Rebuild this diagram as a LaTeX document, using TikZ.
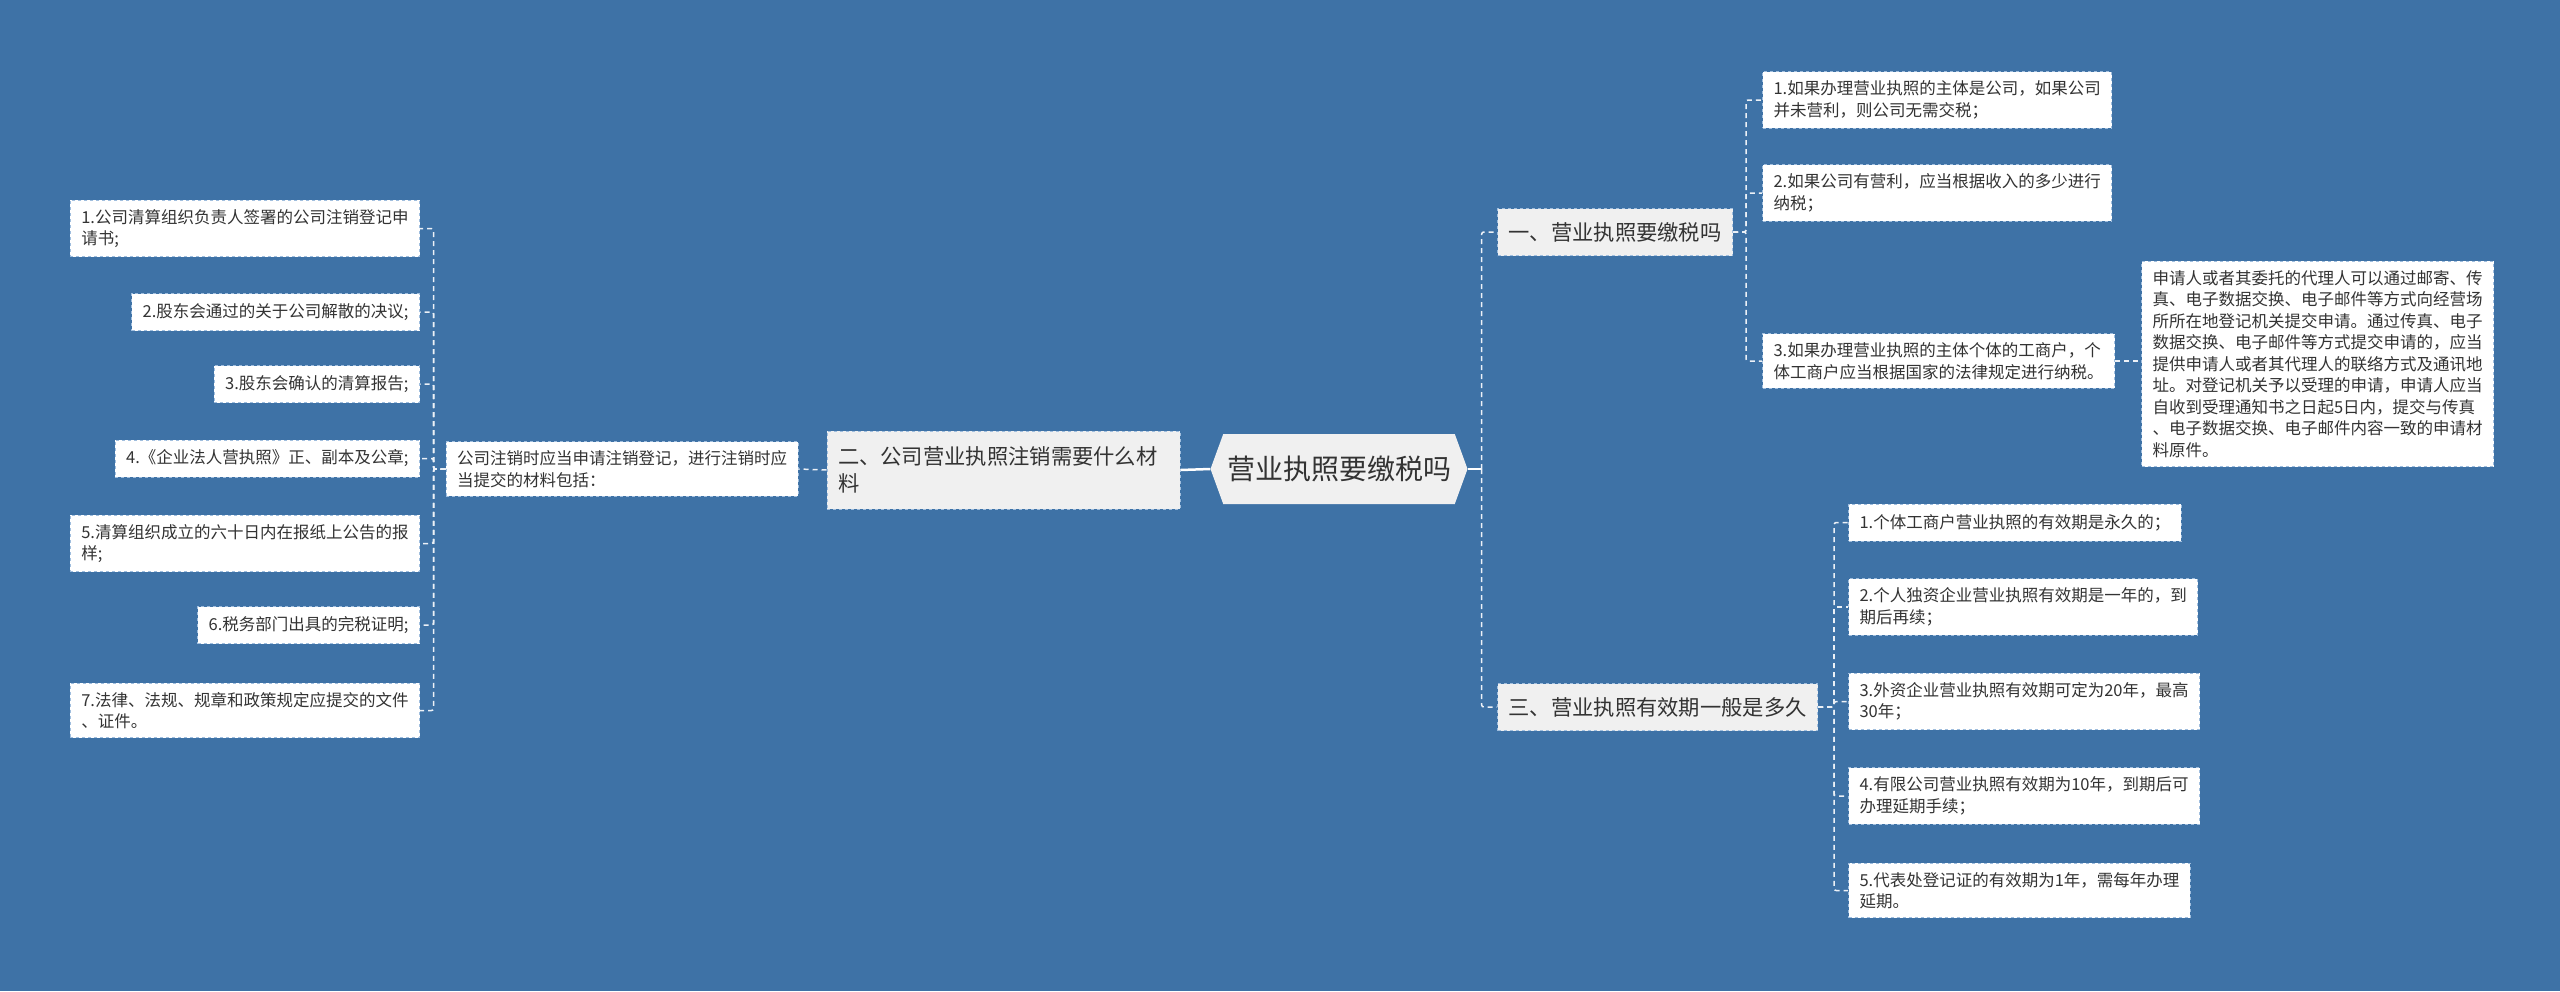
\documentclass[tikz,border=0pt]{standalone}
\usepackage{fontspec}
\setmainfont{Noto Sans CJK SC}
\usetikzlibrary{positioning, shapes.symbols}
\definecolor{bgblue}{RGB}{62, 114, 166}
\definecolor{leafborder}{RGB}{160, 190, 222}
\definecolor{branchfill}{RGB}{240, 240, 240}
\definecolor{textgray}{RGB}{51, 51, 51}
\definecolor{linkwhite}{RGB}{236, 241, 247}

\tikzset{
    leafbox/.style={draw=leafborder, dashed, line width=1pt, fill=white, text=textgray, align=left,
        font=\fontsize{16.5}{21.5}\selectfont, inner xsep=11pt, inner ysep=9pt, minimum height=37pt},
    branchbox/.style={leafbox, fill=branchfill, font=\fontsize{21.3}{27}\selectfont, minimum height=47pt},
    rootbox/.style={shape=signal, signal to=west and east, signal pointer angle=140, fill=branchfill,
        text=textgray, font=\fontsize{28}{32}\selectfont, minimum width=257pt, minimum height=70pt, inner sep=0pt},
    link/.style={draw=linkwhite, dash pattern=on 5pt off 4pt, line width=1.5pt, rounded corners=2pt},
    trunk/.style={draw=white, line width=2.5pt},
}

\begin{document}
\begin{tikzpicture}[x=1pt, y=-1pt]
        \useasboundingbox (0,0) rectangle (2560,991);
        \fill[bgblue] (0,0) rectangle (2560,991);

        % Root
        \node[rootbox] (root) at (1339,469) {营业执照要缴税吗};

        % Branch two (left)
        \node[branchbox, text width=331pt, minimum height=78pt] (b2) at (1003.5,470) {二、公司营业执照注销需要什么材\\料};
        \node[leafbox] (s) at (622,469) {公司注销时应当申请注销登记，进行注销时应\\当提交的材料包括：};

        % Left leaves
        \node[leafbox, anchor=east] (l1) at (420,228.5) {1.公司清算组织负责人签署的公司注销登记申\\请书;};
        \node[leafbox, anchor=east] (l2) at (420,312) {2.股东会通过的关于公司解散的决议;};
        \node[leafbox, anchor=east] (l3) at (420,384) {3.股东会确认的清算报告;};
        \node[leafbox, anchor=east] (l4) at (420,458.5) {4.《企业法人营执照》正、副本及公章;};
        \node[leafbox, anchor=east] (l5) at (420,543.5) {5.清算组织成立的六十日内在报纸上公告的报\\样;};
        \node[leafbox, anchor=east] (l6) at (420,625) {6.税务部门出具的完税证明;};
        \node[leafbox, anchor=east] (l7) at (420,710.5) {7.法律、法规、规章和政策规定应提交的文件\\、证件。};

        % Branch one
        \node[branchbox, anchor=west] (b1) at (1497,232) {一、营业执照要缴税吗};
        \node[leafbox, anchor=west] (r1) at (1762,100) {1.如果办理营业执照的主体是公司，如果公司\\并未营利，则公司无需交税；};
        \node[leafbox, anchor=west] (r2) at (1762,193) {2.如果公司有营利，应当根据收入的多少进行\\纳税；};
        \node[leafbox, anchor=west] (r3) at (1762,361) {3.如果办理营业执照的主体个体的工商户，个\\体工商户应当根据国家的法律规定进行纳税。};
        \node[leafbox, anchor=west] (c) at (2141,364) {申请人或者其委托的代理人可以通过邮寄、传\\真、电子数据交换、电子邮件等方式向经营场\\所所在地登记机关提交申请。通过传真、电子\\数据交换、电子邮件等方式提交申请的，应当\\提供申请人或者其代理人的联络方式及通讯地\\址。对登记机关予以受理的申请，申请人应当\\自收到受理通知书之日起5日内，提交与传真\\、电子数据交换、电子邮件内容一致的申请材\\料原件。};

        % Branch three
        \node[branchbox, anchor=west] (b3) at (1497,707) {三、营业执照有效期一般是多久};
        \node[leafbox, anchor=west] (t1) at (1848,522.5) {1.个体工商户营业执照的有效期是永久的；};
        \node[leafbox, anchor=west] (t2) at (1848,607) {2.个人独资企业营业执照有效期是一年的，到\\期后再续；};
        \node[leafbox, anchor=west] (t3) at (1848,701.5) {3.外资企业营业执照有效期可定为20年，最高\\30年；};
        \node[leafbox, anchor=west] (t4) at (1848,796) {4.有限公司营业执照有效期为10年，到期后可\\办理延期手续；};
        \node[leafbox, anchor=west] (t5) at (1848,890.5) {5.代表处登记证的有效期为1年，需每年办理\\延期。};

        % Links
        \draw[trunk] (root.west) -- (b2.east);
        \draw[link] (b2.west) -- (s.east);
        \foreach \n in {l1,l2,l3,l4,l5,l6,l7}
            \draw[link] (s.west) -- ++(-12,0) |- (\n.east);

        \draw[trunk] (root.east) -- ++(14,0) coordinate (rj);
        \draw[link] (rj) |- (b1.west);
        \draw[link] (rj) |- (b3.west);
        \foreach \n in {r1,r2,r3}
            \draw[link] (b1.east) -- ++(13,0) |- (\n.west);
        \draw[link] (r3.east) -- (r3.east -| c.west);
        \foreach \n in {t1,t2,t3,t4,t5}
            \draw[link] (b3.east) -- ++(16,0) |- (\n.west);
    \end{tikzpicture}
\end{document}
